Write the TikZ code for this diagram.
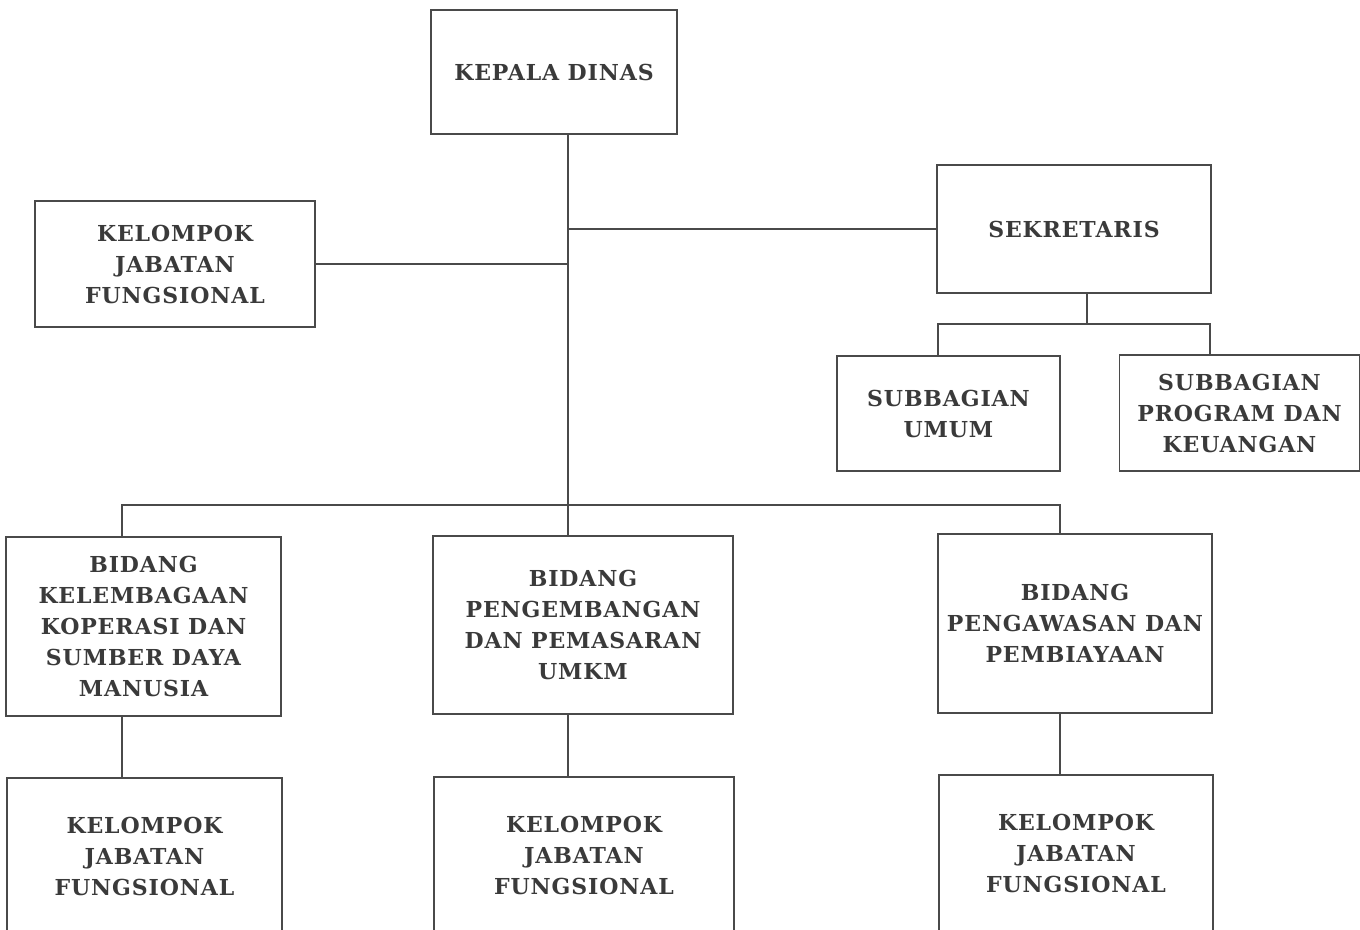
\documentclass[tikz,border=0pt]{standalone}
\usepackage{fontspec}
\setmainfont{DejaVu Serif}[LetterSpace=4]
\usepackage{xcolor}
\usetikzlibrary{positioning}

\definecolor{linegray}{HTML}{4A4A4A}
\definecolor{textgray}{HTML}{3A3A3A}

\tikzset{
    unit/.style={draw=linegray, line width=1.2pt, align=center, inner sep=0pt,
        text=textgray, font=\bfseries\fontsize{22}{31}\selectfont},
    link/.style={draw=linegray, line width=1.1pt},
}

\begin{document}
\begin{tikzpicture}[x=1pt, y=-1pt]
        \clip (0,0) rectangle (1360,929);
        \node[unit, minimum width=246pt, minimum height=124pt] (kadis) at (554,72) {KEPALA DINAS};
        \node[unit, minimum width=280pt, minimum height=126pt] (kjf0) at (175,264) {KELOMPOK\\JABATAN\\FUNGSIONAL};
        \node[unit, minimum width=274pt, minimum height=128pt] (sekr) at (1074,229) {SEKRETARIS};
        \node[unit, minimum width=223pt, minimum height=115pt] (subum) at (948.5,413.5) {SUBBAGIAN\\UMUM};
        \node[unit, minimum width=240pt, minimum height=116pt] (subprog) at (1239.5,413) {SUBBAGIAN\\PROGRAM DAN\\KEUANGAN};
        \node[unit, minimum width=275pt, minimum height=179pt] (bkel) at (143.5,626.5) {BIDANG\\KELEMBAGAAN\\KOPERASI DAN\\SUMBER DAYA\\MANUSIA};
        \node[unit, minimum width=300pt, minimum height=178pt] (bpem) at (583,625) {BIDANG\\PENGEMBANGAN\\DAN PEMASARAN\\UMKM};
        \node[unit, minimum width=274pt, minimum height=179pt] (bpeng) at (1075,623.5) {BIDANG\\PENGAWASAN DAN\\PEMBIAYAAN};
        \node[unit, minimum width=275pt, minimum height=156pt] (kjf1) at (144.5,856) {KELOMPOK\\JABATAN\\FUNGSIONAL};
        \node[unit, minimum width=300pt, minimum height=156pt] (kjf2) at (584,855) {KELOMPOK\\JABATAN\\FUNGSIONAL};
        \node[unit, minimum width=274pt, minimum height=156pt] (kjf3) at (1076,853) {KELOMPOK\\JABATAN\\FUNGSIONAL};

        % junctions
        \coordinate (trunk) at (568,505);
        \coordinate (barL) at (122,505);
        \coordinate (barR) at (1060,505);
        \coordinate (sekdrop) at (1087,324);
        \coordinate (subL) at (938,324);
        \coordinate (subR) at (1210,324);

        \path[link]
        (kadis.south -| trunk) -- (trunk) -- (trunk |- bpem.north)
        (kjf0.east) -- (kjf0.east -| trunk)
        (sekr.west) -- (sekr.west -| trunk)
        (barL |- bkel.north) -- (barL) -- (barR) -- (barR |- bpeng.north)
        (sekr.south -| sekdrop) -- (sekdrop)
        (subL |- subum.north) -- (subL) -- (subR) -- (subR |- subprog.north)
        (barL |- bkel.south) -- (barL |- kjf1.north)
        (trunk |- bpem.south) -- (trunk |- kjf2.north)
        (barR |- bpeng.south) -- (barR |- kjf3.north);
    \end{tikzpicture}
\end{document}
